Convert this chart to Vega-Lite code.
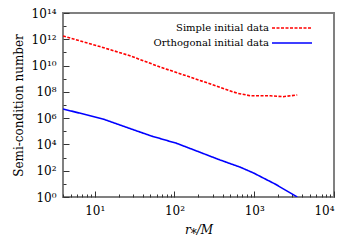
{
  "$schema": "https://vega.github.io/schema/vega-lite/v6.json",
  "width": 271,
  "height": 184,
  "autosize": "none",
  "padding": {"left": 63, "top": 13, "right": 17, "bottom": 51},
  "background": "white",
  "config": {
    "view": {"stroke": "#808080", "strokeWidth": 2},
    "font": "DejaVu Serif"
  },
  "data": {
    "values": [
      {"series": "Simple initial data", "r": 4, "v": 1.78e12},
      {"series": "Simple initial data", "r": 11.6, "v": 2.8e11},
      {"series": "Simple initial data", "r": 27.6, "v": 5.6e10},
      {"series": "Simple initial data", "r": 66, "v": 7.8e9},
      {"series": "Simple initial data", "r": 209, "v": 7.4e8},
      {"series": "Simple initial data", "r": 613, "v": 7.8e7},
      {"series": "Simple initial data", "r": 890, "v": 5.1e7},
      {"series": "Simple initial data", "r": 1585, "v": 5.0e7},
      {"series": "Simple initial data", "r": 2300, "v": 4.3e7},
      {"series": "Simple initial data", "r": 3460, "v": 5.8e7},
      {"series": "Orthogonal initial data", "r": 4, "v": 5.0e6},
      {"series": "Orthogonal initial data", "r": 12.6, "v": 8.7e5},
      {"series": "Orthogonal initial data", "r": 50, "v": 4.6e4},
      {"series": "Orthogonal initial data", "r": 107, "v": 1.2e4},
      {"series": "Orthogonal initial data", "r": 372, "v": 660},
      {"series": "Orthogonal initial data", "r": 661, "v": 190},
      {"series": "Orthogonal initial data", "r": 975, "v": 68},
      {"series": "Orthogonal initial data", "r": 1820, "v": 9.8},
      {"series": "Orthogonal initial data", "r": 3460, "v": 1.0}
    ]
  },
  "mark": {"type": "line", "strokeWidth": 1.6, "clip": true},
  "encoding": {
    "x": {
      "field": "r", "type": "quantitative",
      "scale": {"type": "log", "domain": [4, 10000], "nice": false},
      "axis": {
        "orient": "bottom",
        "domain": false,
        "grid": false,
        "tickColor": "#333333",
        "tickWidth": 1,
        "labelFont": "DejaVu Serif",
        "labelFontSize": 12,
        "labelColor": "black",
        "title": "r⁎/M",
        "titleFont": "DejaVu Serif",
        "titleFontWeight": "normal",
        "titleColor": "black",
        "titleFontStyle": "italic",
        "titleFontSize": 12,
        "titlePadding": 8,
        "values": [4,5,6,7,8,9,10,20,30,40,50,60,70,80,90,100,200,300,400,500,600,700,800,900,1000,2000,3000,4000,5000,6000,7000,8000,9000,10000],
        "labelExpr": "abs(log(datum.value)/LN10 - round(log(datum.value)/LN10)) < 1e-6 ? '10' + ['⁰','¹','²','³','⁴'][round(log(datum.value)/LN10)] : ''",
        "tickSize": {"condition": {"test": "abs(log(datum.value)/LN10 - round(log(datum.value)/LN10)) < 1e-6", "value": -6}, "value": -3},
        "labelPadding": 14
      }
    },
    "y": {
      "field": "v", "type": "quantitative",
      "scale": {"type": "log", "domain": [1, 1e14], "nice": false},
      "axis": {
        "orient": "left",
        "domain": false,
        "grid": false,
        "tickColor": "#333333",
        "tickWidth": 1,
        "labelFont": "DejaVu Serif",
        "labelFontSize": 12,
        "labelColor": "black",
        "title": "Semi-condition number",
        "titleFont": "DejaVu Serif",
        "titleFontWeight": "normal",
        "titleColor": "black",
        "titleFontSize": 12,
        "titlePadding": 6,
        "values": [1,1e1,1e2,1e3,1e4,1e5,1e6,1e7,1e8,1e9,1e10,1e11,1e12,1e13,1e14],
        "labelExpr": "round(log(datum.value)/LN10) % 2 == 0 ? '10' + ['⁰','¹','²','³','⁴','⁵','⁶','⁷','⁸','⁹','¹⁰','¹¹','¹²','¹³','¹⁴'][round(log(datum.value)/LN10)] : ''",
        "tickSize": {"condition": {"test": "round(log(datum.value)/LN10) % 2 == 0", "value": -6}, "value": -3},
        "labelPadding": 13
      }
    },
    "color": {
      "field": "series", "type": "nominal",
      "scale": {"domain": ["Simple initial data", "Orthogonal initial data"], "range": ["#ff0000", "#0000ff"]},
      "legend": {
        "orient": "none",
        "legendX": 224,
        "legendY": 10,
        "title": null,
        "symbolType": "M-5,0H5",
        "symbolSize": 64,
        "symbolStrokeWidth": 1.6,
        "labelAlign": "right",
        "labelOffset": -28,
        "labelFont": "DejaVu Serif",
        "labelFontSize": 10,
        "labelColor": "black",
        "rowPadding": 5,
        "padding": 0
      }
    },
    "strokeDash": {
      "field": "series", "type": "nominal",
      "scale": {"domain": ["Simple initial data", "Orthogonal initial data"], "range": [[3, 1.5], [1, 0]]},
      "legend": null
    }
  }
}
